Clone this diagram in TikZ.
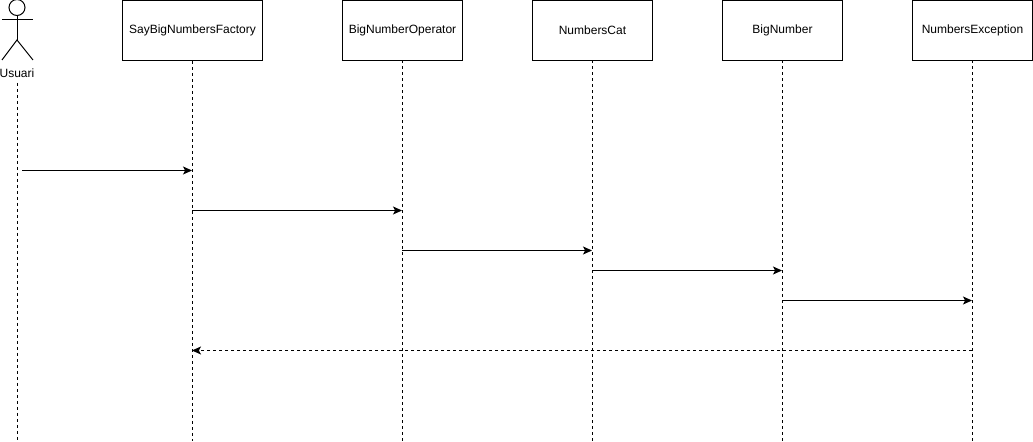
\documentclass[tikz,border=0pt]{standalone}
\usepackage{fontspec}
\setmainfont{Liberation Sans}
\usetikzlibrary{arrows.meta}
\begin{document}
\begin{tikzpicture}[x=0.75pt,y=-0.75pt,line width=0.75pt,
        object node/.style={rectangle,draw,minimum width=90pt,minimum height=45pt,inner sep=0pt,font=\fontsize{9}{11}\selectfont},
        actor label/.style={inner sep=0pt,font=\fontsize{9}{11}\selectfont},
        lifeline/.style={dash pattern=on 2.25pt off 2.25pt},
        message/.style={-{Stealth[length=6.75pt,width=6pt,inset=1.6pt]}},
        reply/.style={message,dash pattern=on 2.25pt off 2.25pt}]
    \useasboundingbox (0, 0) rectangle (1033, 442);

    \node[object node,minimum width=105pt] at (192.5, 30.5) (factory) {SayBigNumbersFactory};
    \node[object node] at (402.5, 30.5) (operator) {BigNumberOperator};
    \node[object node] at (592.5, 30.5) (cat) {NumbersCat};
    \node[object node] at (782.5, 30.5) (number) {BigNumber};
    \node[object node] at (972.5, 30.5) (exception) {NumbersException};

    % actor
    \node[circle,draw,minimum size=12pt,inner sep=0pt] at (17, 7.5) (head) {};
    \coordinate (arml) at (2, 20);
    \coordinate (armr) at (33, 20);
    \coordinate (hip) at (17, 40);
    \coordinate (legl) at (2, 60);
    \coordinate (legr) at (33, 60);
    \node[actor label] at (17, 73) (usuari) {Usuari};
    \draw (head) -- (hip);
    \draw (arml) -- (armr);
    \draw (legl) -- (hip) -- (legr);

    % lifelines
    \coordinate (usuaristart) at (17, 83);
    \coordinate (operatorstart) at (402, 60.5);
    \coordinate (catstart) at (592, 60.5);
    \coordinate (numberstart) at (782, 60.5);
    \coordinate (exceptionstart) at (972, 60.5);
    \coordinate (usuariend) at (17, 441);
    \coordinate (factoryend) at (192.5, 441);
    \coordinate (operatorend) at (402, 441);
    \coordinate (catend) at (592, 441);
    \coordinate (numberend) at (782, 441);
    \coordinate (exceptionend) at (972, 441);
    \draw[lifeline] (usuaristart) -- (usuariend);
    \draw[lifeline] (factory) -- (factoryend);
    \draw[lifeline] (operatorstart) -- (operatorend);
    \draw[lifeline] (catstart) -- (catend);
    \draw[lifeline] (numberstart) -- (numberend);
    \draw[lifeline] (exceptionstart) -- (exceptionend);

    % messages
    \coordinate (m1a) at (22, 170.5);
    \coordinate (m1b) at (192, 170.5);
    \coordinate (m2a) at (192, 210.5);
    \coordinate (m2b) at (402, 210.5);
    \coordinate (m3a) at (402, 250.5);
    \coordinate (m3b) at (592, 250.5);
    \coordinate (m4a) at (592, 270.5);
    \coordinate (m4b) at (782, 270.5);
    \coordinate (m5a) at (782, 300.5);
    \coordinate (m5b) at (972, 300.5);
    \coordinate (m6a) at (972, 350.5);
    \coordinate (m6b) at (192, 350.5);
    \draw[message] (m1a) -- (m1b);
    \draw[message] (m2a) -- (m2b);
    \draw[message] (m3a) -- (m3b);
    \draw[message] (m4a) -- (m4b);
    \draw[message] (m5a) -- (m5b);
    \draw[reply] (m6a) -- (m6b);
\end{tikzpicture}
\end{document}
